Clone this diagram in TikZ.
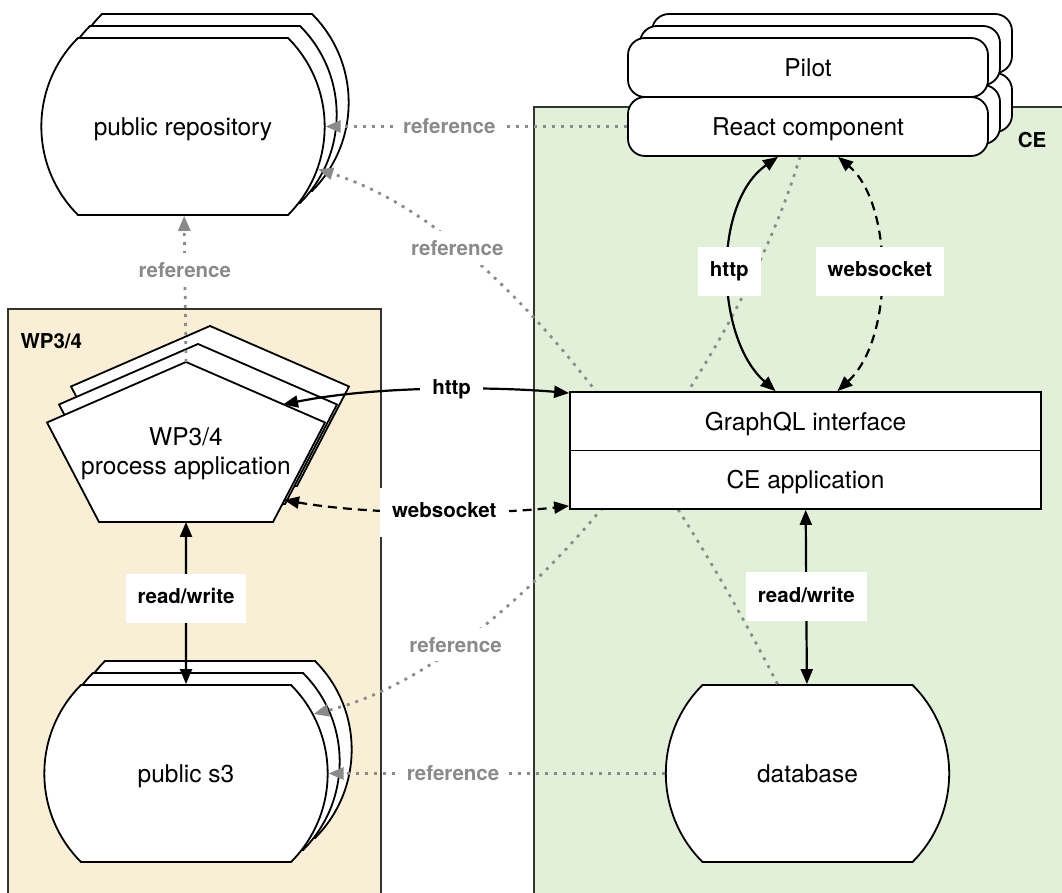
\documentclass[tikz,border=0pt]{standalone}
\usepackage{fontspec}
\setmainfont{TeX Gyre Heros}
\usetikzlibrary{arrows.meta,shapes.misc,shadows}

\definecolor{wpfill}{HTML}{F8EFD6}
\definecolor{cefill}{HTML}{E2F0D9}
\definecolor{refgray}{HTML}{8A8A8A}

\tikzset{
  region/.style={draw=black!80,line width=1.5pt},
  stack/.style={
    copy shadow={shadow xshift=24pt,shadow yshift=24pt,draw,fill=white,line width=1.8pt},
    copy shadow={shadow xshift=12pt,shadow yshift=12pt,draw,fill=white,line width=1.8pt}},
  pentstack/.style={
    copy shadow={shadow xshift=24pt,shadow yshift=36pt,draw,fill=white,line width=1.8pt},
    copy shadow={shadow xshift=12pt,shadow yshift=18pt,draw,fill=white,line width=1.8pt}},
  boxtext/.style={font=\fontsize{24.5}{29}\selectfont},
  store/.style={boxtext,draw,fill=white,line width=1.8pt,rounded rectangle,
    rounded rectangle arc length=90,minimum width=290pt,minimum height=177pt,
    text height=20pt,text depth=2pt},
  tab/.style={boxtext,draw,fill=white,line width=1.8pt,rounded corners=17pt,
    minimum width=360pt,minimum height=59pt,text height=20pt,text depth=2pt},
  layer/.style={boxtext,draw,fill=white,line width=1.8pt,minimum width=471pt,minimum height=58.5pt,
    text height=20pt,text depth=2pt},
  link/.style={line width=2.2pt,{Triangle[length=15pt,width=12pt]}-{Triangle[length=15pt,width=12pt]}},
  wsdash/.style={dash pattern=on 9pt off 6pt},
  refline/.style={draw=refgray,line width=2.7pt,dash pattern=on 3pt off 6pt,-{Triangle[length=15pt,width=12pt]}},
  linklabel/.style={fill=white,font=\bfseries\fontsize{20.5}{24}\selectfont,inner xsep=12pt,inner ysep=15pt,text height=15pt,text depth=4pt},
  reflabel/.style={fill=white,text=refgray,font=\bfseries\fontsize{20.5}{24}\selectfont,inner sep=9pt},
  regionlabel/.style={font=\bfseries\fontsize{20.5}{24}\selectfont}
}

\begin{document}
\begin{tikzpicture}[x=1pt,y=1pt]
\useasboundingbox (0,0) rectangle (1062,893);
\clip (0,0) rectangle (1062,893);

% regions
\path[region,fill=wpfill] (8,-10) rectangle (381,584);
\path[region,fill=cefill] (534,-10) rectangle (1075,786);
\node[regionlabel,anchor=west] (wp) at (17,552) {WP3/4};
\node[regionlabel] (ce) at (1032,753) {CE};

% shapes
\node[store,stack] (repo) at (183,766.5) {public repository};
\node[store,stack] (s3) at (186,119.5) {public s3};
\node[store] (db) at (807.5,119.5) {database};
\node[tab,stack] (react) at (808,766.5) {React component};
\node[tab,stack] (pilot) at (808,825.5) {Pilot};
\path[draw,fill=white,line width=1.8pt,pentstack] (186,531) -- (325,470.5) -- (273,371) -- (99,371) -- (47,470.5) -- cycle;
\node[boxtext,align=center] (pent) at (186,439) {WP3/4\\process application};
\coordinate (pent-top) at (186,531);
\coordinate (pent-bottom) at (186,371);
\coordinate (pent-http) at (283,488.5);
\coordinate (pent-ws) at (284,393);

% references crossing behind the CE application
\path[refline] ([xshift=-30pt]db.north) .. controls (690,380) and (520,660) .. node[reflabel,pos=0.76] {reference} (repo);
\path[refline] ([xshift=-8pt]react.south) .. controls (735,520) and (520,230) .. node[reflabel,pos=0.77] {reference} (s3.25);

\node[layer] (gql) at (805.5,471.75) {GraphQL interface};
\node[layer] (ceapp) at (805.5,413.25) {CE application};

% references
\path[refline] (react) -- node[reflabel,pos=0.59] {reference} (repo);
\path[refline] (db) -- node[reflabel,pos=0.63] {reference} (s3);
\path[refline] (pent-top) -- node[reflabel,pos=0.63] {reference} (repo);

% links
\path[draw,link] ([xshift=-30pt]gql.north) .. controls (715,555) and (712,690) .. node[linklabel] {http} ([xshift=-30pt]react.south);
\path[draw,link,wsdash] ([xshift=32pt]gql.north) .. controls (895,555) and (893,690) .. node[linklabel] {websocket} ([xshift=30pt]react.south);
\path[draw,link] (pent-http) .. controls (380,508) and (500,506) .. node[linklabel,pos=0.55] {http} ([yshift=-2pt]gql.north west);
\path[draw,link,wsdash] (pent-ws) .. controls (370,378) and (490,378) .. node[linklabel,pos=0.55] {websocket} ([yshift=4pt]ceapp.south west);
\path[draw,link] (pent-bottom) -- node[linklabel,pos=0.47] {read/write} (s3);
\path[draw,link] (ceapp) -- node[linklabel] {read/write} (db);
\end{tikzpicture}
\end{document}
